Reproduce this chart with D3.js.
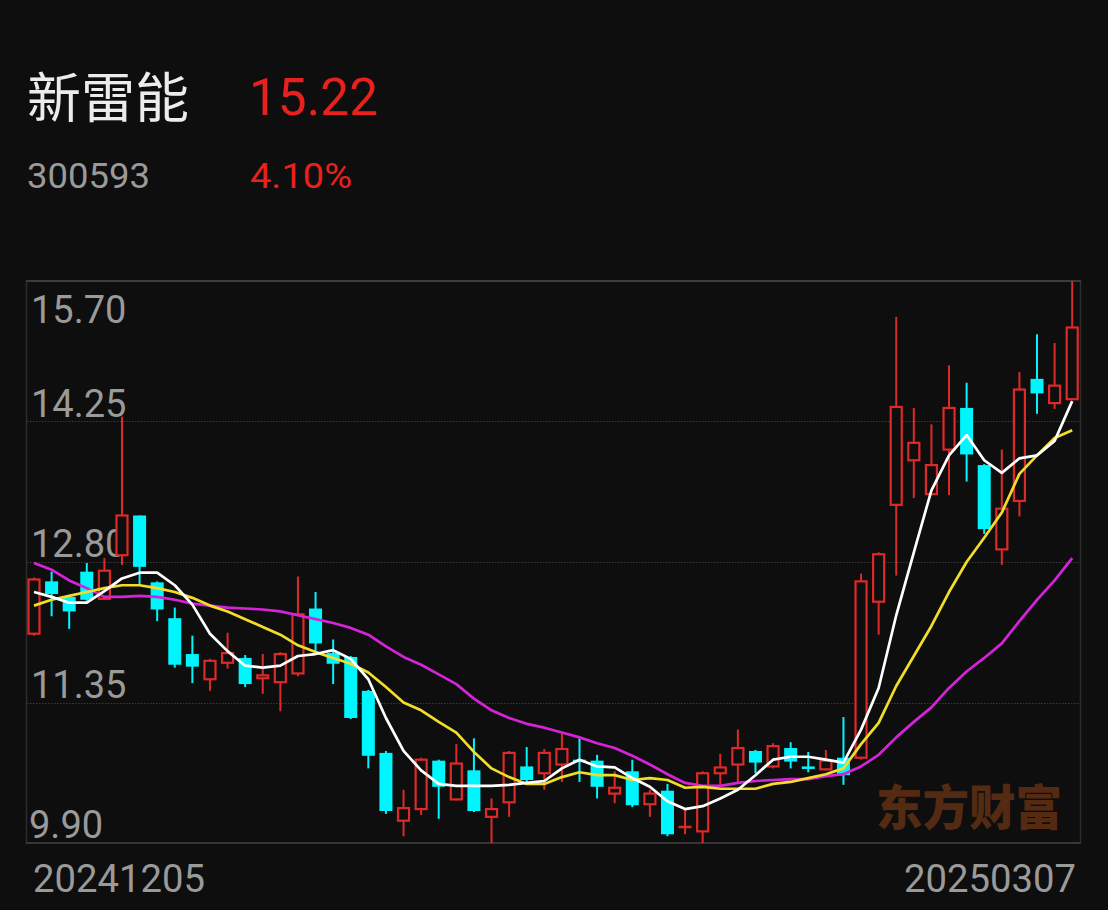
<!DOCTYPE html>
<html><head><meta charset="utf-8">
<script src="https://cdn.jsdelivr.net/npm/d3@7/dist/d3.min.js"></script>
<style>
html,body{margin:0;padding:0;background:#0e0e0e;}
svg{display:block;}
</style></head>
<body><svg id="c" width="1108" height="910"></svg>
<script>
const stockName = "新雷能";
const stockCode = "300593";
const lastPrice = "15.22";
const changePct = "4.10%";
const dates = ["20241205","20241206","20241209","20241210","20241211","20241212","20241213","20241216","20241217","20241218","20241219","20241220","20241223","20241224","20241225","20241226","20241227","20241230","20241231",
"20250102","20250103","20250106","20250107","20250108","20250109","20250110","20250113","20250114","20250115","20250116","20250117","20250120","20250121","20250122","20250123","20250124","20250127",
"20250205","20250206","20250207","20250210","20250211","20250212","20250213","20250214","20250217","20250218","20250219","20250220","20250221","20250224","20250225","20250226","20250227","20250228",
"20250303","20250304","20250305","20250306","20250307"];
const open  = [12.06,12.60,12.44,12.70,12.42,12.87,13.28,12.59,12.22,11.85,11.59,11.76,11.81,11.60,11.56,11.65,12.32,11.86,11.82,11.47,10.83,10.13,10.25,10.75,10.35,10.65,10.17,10.32,10.69,10.62,10.71,10.76,10.75,10.41,10.64,10.30,10.44,10.06,10.02,10.62,10.71,10.85,10.69,10.88,10.69,10.66,10.78,10.78,12.39,13.39,13.85,13.50,13.96,14.39,13.80,12.93,13.43,14.69,14.44,14.48];
const high  = [12.64,12.70,12.46,12.79,12.84,14.30,13.28,12.60,12.33,12.04,11.80,12.07,11.84,11.85,11.87,12.65,12.49,12.00,11.83,11.48,10.85,10.45,10.78,10.76,10.92,10.98,10.36,10.85,10.89,10.87,11.03,10.98,10.81,10.64,10.76,10.45,10.51,10.24,10.64,10.82,11.07,10.86,10.93,10.94,10.84,10.86,11.20,12.68,12.90,15.33,14.39,14.22,14.83,14.65,13.81,13.96,14.76,15.15,15.06,15.70];
const low   = [12.04,12.24,12.11,12.40,12.41,12.77,12.56,12.19,11.71,11.55,11.47,11.70,11.51,11.44,11.26,11.62,11.86,11.54,11.18,10.67,10.20,9.97,10.19,10.15,10.34,10.22,9.90,10.17,10.52,10.45,10.53,10.53,10.36,10.31,10.27,10.17,9.97,9.99,9.90,10.48,10.53,10.62,10.67,10.67,10.63,10.65,10.50,10.76,12.05,12.66,13.46,13.49,13.49,13.63,13.09,12.77,13.27,14.33,14.38,14.48];
const close = [12.62,12.47,12.29,12.41,12.71,13.28,12.75,12.31,11.74,11.72,11.78,11.86,11.54,11.63,11.85,12.26,11.96,11.75,11.19,10.80,10.23,10.26,10.76,10.48,10.72,10.23,10.25,10.83,10.55,10.83,10.87,10.74,10.48,10.47,10.29,10.41,9.99,10.07,10.62,10.68,10.88,10.73,10.90,10.74,10.68,10.75,10.60,12.60,12.88,14.40,14.03,13.80,14.39,13.91,13.14,13.35,14.58,14.54,14.62,15.22];
const ma5  = [12.49,12.44,12.38,12.38,12.50,12.63,12.69,12.69,12.56,12.36,12.06,11.88,11.73,11.71,11.73,11.83,11.85,11.89,11.80,11.59,11.19,10.85,10.65,10.51,10.49,10.49,10.49,10.50,10.52,10.54,10.67,10.76,10.69,10.68,10.57,10.48,10.33,10.25,10.28,10.36,10.45,10.60,10.76,10.79,10.79,10.76,10.73,11.07,11.50,12.25,12.90,13.54,13.90,14.11,13.85,13.72,13.87,13.90,14.05,14.46];
const ma10 = [12.35,12.41,12.45,12.49,12.53,12.56,12.56,12.53,12.49,12.43,12.35,12.29,12.21,12.13,12.05,11.94,11.87,11.81,11.75,11.66,11.51,11.35,11.27,11.15,11.04,10.84,10.67,10.58,10.51,10.51,10.58,10.63,10.60,10.60,10.55,10.57,10.55,10.47,10.48,10.46,10.46,10.46,10.51,10.53,10.57,10.61,10.67,10.92,11.14,11.52,11.83,12.14,12.49,12.80,13.05,13.31,13.71,13.90,14.08,14.16];
const ma20 = [12.79,12.72,12.61,12.53,12.44,12.44,12.45,12.44,12.41,12.37,12.35,12.33,12.32,12.31,12.29,12.25,12.21,12.17,12.12,12.05,11.93,11.82,11.74,11.64,11.54,11.39,11.27,11.19,11.13,11.09,11.04,10.99,10.93,10.88,10.80,10.71,10.61,10.52,10.49,10.49,10.52,10.54,10.55,10.56,10.56,10.59,10.61,10.69,10.81,10.99,11.15,11.30,11.50,11.67,11.81,11.96,12.19,12.41,12.61,12.84];
const priceTicks = [15.70, 14.25, 12.80, 11.35, 9.90];
const dateLabels = ["20241205", "20250307"];

(function () {
const svg = d3.select("#c");
const W = 1108, H = 910;
const plotL = 25.2, plotR = 1081, plotT = 281, plotB = 843;
const RED = "#dc2a28", CYAN = "#00f6ff";

svg.append("rect").attr("width", W).attr("height", H).attr("fill", "#0e0e0e");

// header
svg.append("text").attr("x", 27).attr("y", 118).text(stockName)
  .attr("font-family", "'Noto Sans CJK SC', sans-serif").attr("font-size", 54).attr("fill", "#ececec");
svg.append("text").attr("x", 249).attr("y", 115).text(lastPrice)
  .attr("font-family", "Roboto, sans-serif").attr("font-size", 52).attr("fill", "#e8211f")
  .attr("textLength", 129).attr("lengthAdjust", "spacingAndGlyphs");
svg.append("text").attr("x", 27).attr("y", 188).text(stockCode)
  .attr("font-family", "Roboto, sans-serif").attr("font-size", 35).attr("fill", "#9a9a9a")
  .attr("textLength", 123).attr("lengthAdjust", "spacingAndGlyphs");
svg.append("text").attr("x", 250).attr("y", 188).text(changePct)
  .attr("font-family", "Roboto, sans-serif").attr("font-size", 35).attr("fill", "#e8211f")
  .attr("textLength", 102).attr("lengthAdjust", "spacingAndGlyphs");

const x = d3.scaleBand().domain(dates).range([plotL, plotR]).paddingInner(0.26).paddingOuter(0.13);
const y = d3.scaleLinear().domain([9.90, 15.70]).range([plotB, plotT]);
const cx = d => x(d) + x.bandwidth() / 2;

// frame
svg.append("line").attr("x1", 26.5).attr("x2", 26.5).attr("y1", plotT).attr("y2", plotB).attr("stroke", "#2c2c2c").attr("stroke-width", 1.5);
svg.append("line").attr("x1", 1080.5).attr("x2", 1080.5).attr("y1", plotT).attr("y2", plotB).attr("stroke", "#2c2c2c").attr("stroke-width", 1.5);
svg.append("line").attr("x1", 26).attr("x2", 1081).attr("y1", plotT).attr("y2", plotT).attr("stroke", "#3c3c3c").attr("stroke-width", 2);
svg.append("line").attr("x1", 26).attr("x2", 1081).attr("y1", plotB).attr("y2", plotB).attr("stroke", "#363636").attr("stroke-width", 2);

// grid
svg.append("g").selectAll("line").data(priceTicks.slice(1, 4)).join("line")
  .attr("x1", 27).attr("x2", 1080).attr("y1", d => Math.round(y(d)) + 0.5).attr("y2", d => Math.round(y(d)) + 0.5)
  .attr("stroke", "#3a3a3a").attr("stroke-width", 1).attr("stroke-dasharray", "1.5,1.5");

// watermark
svg.append("text").attr("x", 876).attr("y", 825).text("东方财富")
  .attr("font-family", "'Noto Sans CJK SC', sans-serif").attr("font-weight", 900).attr("font-size", 48)
  .attr("fill", "#552a12").attr("textLength", 186).attr("lengthAdjust", "spacingAndGlyphs");

// price labels
svg.append("g").selectAll("text").data(priceTicks).join("text")
  .attr("x", d => d === 9.90 ? 29 : 31)
  .attr("y", (d, i) => i === 0 ? y(d) + 42 : y(d) - 5)
  .text(d => d.toFixed(2))
  .attr("font-family", "Roboto, sans-serif").attr("font-size", 38).attr("fill", "#9a9a9a");

// date labels
svg.append("text").attr("x", 33).attr("y", 892).text(dateLabels[0])
  .attr("font-family", "Roboto, sans-serif").attr("font-size", 38).attr("fill", "#9a9a9a")
  .attr("textLength", 172).attr("lengthAdjust", "spacingAndGlyphs");
svg.append("text").attr("x", 1076).attr("y", 892).attr("text-anchor", "end").text(dateLabels[1])
  .attr("font-family", "Roboto, sans-serif").attr("font-size", 38).attr("fill", "#9a9a9a")
  .attr("textLength", 172).attr("lengthAdjust", "spacingAndGlyphs");

// candles
const candles = dates.map((d, i) => ({d, o: open[i], h: high[i], l: low[i], c: close[i]}));
const g = svg.append("g");
candles.forEach(k => {
  const up = k.c >= k.o;
  const col = up ? RED : CYAN;
  const xc = cx(k.d);
  const bTop = y(Math.max(k.o, k.c)), bBot = y(Math.min(k.o, k.c));
  const bw = x.bandwidth();
  if (up) {
    g.append("line").attr("x1", xc).attr("x2", xc).attr("y1", y(k.h)).attr("y2", bTop).attr("stroke", col).attr("stroke-width", 2);
    g.append("line").attr("x1", xc).attr("x2", xc).attr("y1", bBot).attr("y2", y(k.l)).attr("stroke", col).attr("stroke-width", 2);
    const hgt = Math.max(bBot - bTop, 0);
    if (hgt < 2.5) {
      g.append("line").attr("x1", xc - bw / 2).attr("x2", xc + bw / 2).attr("y1", (bTop + bBot) / 2).attr("y2", (bTop + bBot) / 2).attr("stroke", col).attr("stroke-width", 2.5);
    } else {
      g.append("rect").attr("x", xc - bw / 2 + 1).attr("y", bTop).attr("width", bw - 2).attr("height", hgt)
        .attr("fill", "#0e0e0e").attr("stroke", col).attr("stroke-width", 2.2);
    }
  } else {
    g.append("line").attr("x1", xc).attr("x2", xc).attr("y1", y(k.h)).attr("y2", y(k.l)).attr("stroke", col).attr("stroke-width", 2);
    g.append("rect").attr("x", xc - bw / 2).attr("y", bTop).attr("width", bw).attr("height", Math.max(bBot - bTop, 2.5)).attr("fill", col);
  }
});

// moving averages
const line = d3.line().x((v, i) => cx(dates[i])).y(v => y(v));
[[ma20, "#d424d8"], [ma10, "#f2de2a"], [ma5, "#ffffff"]].forEach(([arr, col]) => {
  svg.append("path").attr("d", line(arr)).attr("fill", "none").attr("stroke", col).attr("stroke-width", 2.7).attr("stroke-linejoin", "round");
});
})();
</script></body></html>
